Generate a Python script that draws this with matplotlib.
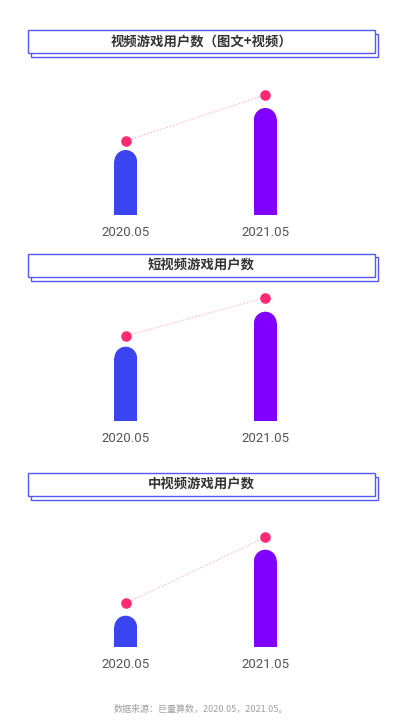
import matplotlib
matplotlib.use("Agg")
import matplotlib.pyplot as plt
from matplotlib.patches import Rectangle, Ellipse

plt.rcParams['font.family'] = ['Noto Sans CJK SC', 'DejaVu Sans']

# chart data (relative user counts)
titles = ["视频游戏用户数（图文+视频）", "短视频游戏用户数", "中视频游戏用户数"]
periods = ["2020.05", "2021.05"]
bar_values = [[65, 107], [74, 109], [31, 97]]
dot_values = [[74, 120], [84.7, 123], [43.4, 109.4]]
source = "数据来源：巨量算数，2020.05，2021.05。"

bar_colors = ['#3B44F1', '#8000FF']
dot_color = '#FF2A73'
line_color = '#FFB0C8'
box_color = '#5458F2'

W, H = 415, 726
fig = plt.figure(figsize=(W / 100, H / 100), dpi=100)
fig.patch.set_facecolor('white')

# panel layout in pixels: title box top/bottom, bar baseline
panels = [(30, 53, 215), (253.5, 276.5, 420.7), (472.5, 495.5, 646.7)]
x_centers = (125.7, 265.3)
bar_px = 22.7


def fx(px):
    return px / W


def fy(py):
    return 1 - py / H


for i, (top, bot, base) in enumerate(panels):
    # title box with offset shadow
    for dx, dy, fc, z in [(3, 4, 'none', 1), (0, 0, 'white', 2)]:
        fig.patches.append(Rectangle((fx(28 + dx), fy(bot + dy)), fx(346.5), (bot - top) / H,
                                     transform=fig.transFigure, facecolor=fc,
                                     edgecolor=box_color, linewidth=1.0, zorder=z))
    fig.text(fx(201.5), fy((top + bot) / 2), titles[i], ha='center', va='center',
             fontsize=9.6, fontweight='bold', color='#333333', zorder=3)

    # axes where 1 y-unit = 1 px
    ax_h = 140
    ax = fig.add_axes([0, fy(base), 1, ax_h / H])
    scale = x_centers[1] - x_centers[0]
    ax.set_xlim(-x_centers[0] / scale, (W - x_centers[0]) / scale)
    ax.set_ylim(0, ax_h)
    ax.axis('off')

    bw = bar_px / scale
    r = bar_px / 2
    for j, v in enumerate(bar_values[i]):
        ax.add_patch(Rectangle((j - bw / 2, 0), bw, v - r, facecolor=bar_colors[j],
                               edgecolor='none', clip_on=False))
        ax.add_patch(Ellipse((j, v - r), bw, 2 * r, facecolor=bar_colors[j],
                             edgecolor='none', clip_on=False))
        ax.text(j, -17.5, periods[j], ha='center', va='center', fontsize=9.5,
                color='#555555', family=['Roboto', 'DejaVu Sans'], clip_on=False)

    ax.plot([0, 1], dot_values[i], linestyle=':', color=line_color, linewidth=0.9,
            clip_on=False, zorder=2)
    ax.scatter([0, 1], dot_values[i], s=58, color=dot_color, zorder=3,
               clip_on=False, linewidths=0)

fig.text(fx(200.5), fy(709.5), source, ha='center', va='center', fontsize=6.5,
         color='#A0A0A0')

fig.savefig("out.png", dpi=100, facecolor='white')
